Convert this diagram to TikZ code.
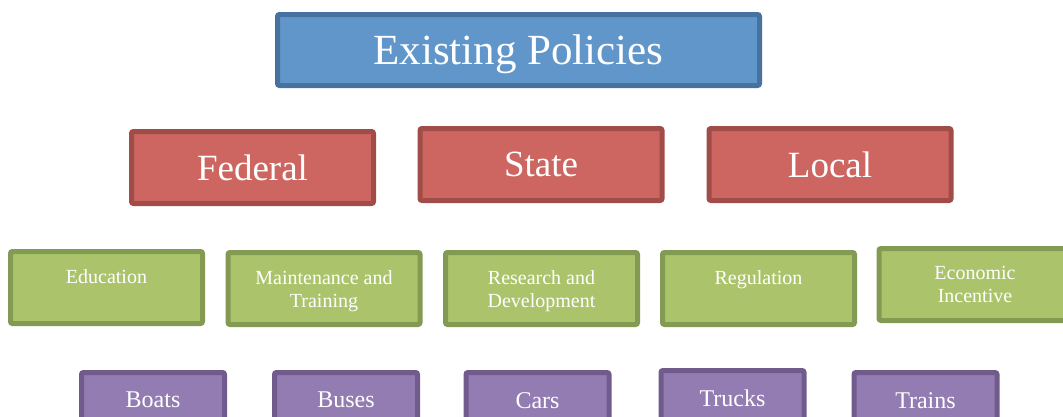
\documentclass[tikz,border=0pt]{standalone}
\usepackage{fontspec}
\setmainfont{Liberation Serif}
\usepackage{xcolor}
\usepackage{tikz}

\definecolor{bluefill}{RGB}{96,150,202}
\definecolor{blueline}{RGB}{71,113,158}
\definecolor{redfill}{RGB}{205,102,96}
\definecolor{redline}{RGB}{160,76,72}
\definecolor{greenfill}{RGB}{171,196,108}
\definecolor{greenline}{RGB}{131,154,82}
\definecolor{purplefill}{RGB}{147,124,178}
\definecolor{purpleline}{RGB}{113,91,141}

\tikzset{
	box/.style={rectangle, line width=5pt, rounded corners=2pt, inner sep=0pt},
	policybox/.style={box, draw=blueline, fill=bluefill, minimum width=482pt, minimum height=71pt,
		text=white, text depth=0pt, font=\fontsize{43}{48}\selectfont},
	levelbox/.style={box, draw=redline, fill=redfill, minimum width=242pt, minimum height=72pt,
		text=white, text depth=0pt, font=\fontsize{37}{42}\selectfont},
	toolbox/.style={box, draw=greenline, fill=greenfill, minimum width=192pt, minimum height=72pt},
	modebox/.style={box, draw=purpleline, fill=purplefill, minimum width=143pt, minimum height=72pt},
	tooltext/.style={anchor=north, inner sep=0pt, align=center, text=white, font=\fontsize{20}{23}\selectfont},
	modetext/.style={anchor=north, inner sep=0pt, text=white, font=\fontsize{24}{28}\selectfont}
}

\begin{document}
\begin{tikzpicture}[x=1pt, y=-1pt]
	\useasboundingbox (0,0) rectangle (1063,416);
	\clip (0,0) rectangle (1063,416);

	\node[policybox] (policies) at (518.5,50) {Existing Policies};

	\node[levelbox] (federal) at (252.5,167.5) {Federal};
	\node[levelbox] (state) at (541,164.5) {State};
	\node[levelbox] (local) at (830,164.5) {Local};

	\node[toolbox] (education) at (106.5,287.5) {};
	\node[toolbox] (maintenance) at (324,288.5) {};
	\node[toolbox] (research) at (541.5,288.5) {};
	\node[toolbox] (regulation) at (758.5,288.5) {};
	\node[toolbox] (incentive) at (975,284.5) {};
	\node[tooltext] (education-t) at ([yshift=-20.5pt]education.north) {Education};
	\node[tooltext] (maintenance-t) at ([yshift=-20.5pt]maintenance.north) {Maintenance and\\Training};
	\node[tooltext] (research-t) at ([yshift=-20.5pt]research.north) {Research and\\Development};
	\node[tooltext] (regulation-t) at ([yshift=-20.5pt]regulation.north) {Regulation};
	\node[tooltext] (incentive-t) at ([yshift=-20.5pt]incentive.north) {Economic\\Incentive};

	% vehicles
	\node[modebox] (boats) at (153,408.5) {};
	\node[modebox] (buses) at (346,408.5) {};
	\node[modebox] (cars) at (537.5,408.5) {};
	\node[modebox] (trucks) at (732.5,406.5) {};
	\node[modebox] (trains) at (925.5,408.5) {};
	\node[modetext] (boats-t) at ([yshift=-22pt]boats.north) {Boats};
	\node[modetext] (buses-t) at ([yshift=-22pt]buses.north) {Buses};
	\node[modetext] (cars-t) at ([yshift=-22pt]cars.north) {Cars};
	\node[modetext] (trucks-t) at ([yshift=-22pt]trucks.north) {Trucks};
	\node[modetext] (trains-t) at ([yshift=-22pt]trains.north) {Trains};
\end{tikzpicture}
\end{document}
